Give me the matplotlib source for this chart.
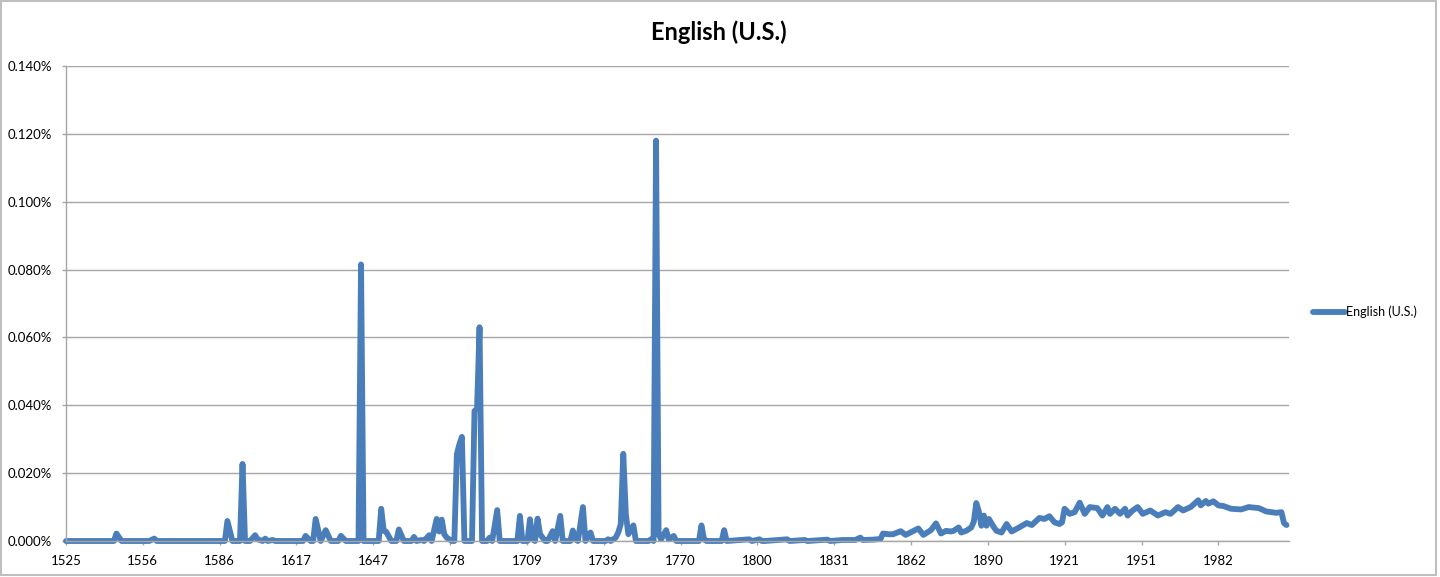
import numpy as np
import matplotlib
matplotlib.use("Agg")
from matplotlib import pyplot as plt
from matplotlib.patches import Rectangle
from matplotlib.ticker import FuncFormatter

plt.rcParams['font.family'] = ['Lato', 'DejaVu Sans']

# 1525-1800: mostly zero with isolated spikes (values in %)
years_early = [1525, 1544, 1545, 1547, 1558, 1560, 1561, 1588, 1589, 1591, 1594, 1595, 1596,
               1598, 1600, 1601, 1603, 1604, 1605, 1607, 1608, 1619, 1620, 1622, 1623, 1624,
               1626, 1628, 1630, 1633, 1634, 1636, 1641, 1642, 1643, 1649, 1650, 1651, 1652,
               1654, 1656, 1657, 1659, 1662, 1663, 1664, 1666, 1667, 1669, 1670, 1672, 1673,
               1674, 1675, 1676, 1677, 1678, 1679, 1680, 1681, 1682, 1683, 1686, 1687, 1688,
               1689, 1690, 1692, 1693, 1694, 1696, 1697, 1704, 1705, 1706, 1708, 1709, 1710,
               1711, 1712, 1713, 1714, 1715, 1716, 1718, 1719, 1721, 1722, 1725, 1726, 1727,
               1728, 1730, 1731, 1732, 1733, 1734, 1739, 1740, 1741, 1743, 1744, 1745, 1746,
               1747, 1748, 1750, 1751, 1756, 1757, 1758, 1759, 1760, 1761, 1763, 1764, 1766,
               1767, 1776, 1777, 1778, 1779, 1785, 1786, 1787, 1796, 1797, 1800, 1801]
share_early = [0, 0, 0.0022, 0, 0, 0.0007, 0, 0, 0.0059, 0, 0, 0.0227, 0,
               0, 0.0017, 0.0005, 0, 0.0007, 0, 0.0003, 0, 0, 0.0015, 0, 0, 0.0065,
               0, 0.0032, 0, 0, 0.0015, 0, 0, 0.0815, 0, 0, 0.0095, 0.003, 0.0027,
               0, 0, 0.0034, 0, 0, 0.0012, 0, 0.0003, 0, 0.0017, 0, 0.0065, 0.0028,
               0.0063, 0.002, 0.001, 0.0005, 0, 0, 0.0256, 0.0285, 0.0307, 0, 0, 0.0383, 0.039,
               0.063, 0, 0, 0.001, 0, 0.0091, 0, 0, 0.0074, 0, 0, 0.0064, 0.0005,
               0, 0.0066, 0.002, 0.001, 0, 0, 0.0029, 0, 0.0074, 0, 0, 0.0031, 0.0005,
               0, 0.010, 0, 0.0015, 0.0025, 0, 0, 0.0005, 0, 0.001, 0.0025, 0.005, 0.0257,
               0.008, 0.002, 0.0046, 0, 0, 0.0005, 0, 0.118, 0.002, 0.0005, 0.0032, 0.0005, 0.0015,
               0, 0, 0.0046, 0.0005, 0, 0, 0.0032, 0, 0.0005, 0, 0.0005, 0]

# 1802-2009: low, slowly rising usage
years_late = [1802, 1811, 1812, 1818, 1819, 1827, 1828, 1833, 1838, 1840, 1841, 1845, 1848,
              1849, 1851, 1853, 1856, 1858, 1863, 1865, 1868, 1870, 1872, 1874, 1876, 1877,
              1879, 1880, 1882, 1884, 1885, 1886, 1887, 1888, 1889, 1890, 1891, 1893, 1894,
              1896, 1898, 1900, 1903, 1906, 1908, 1911, 1913, 1915, 1917, 1919, 1920, 1921,
              1923, 1925, 1927, 1929, 1931, 1934, 1936, 1938, 1939, 1941, 1943, 1945, 1946,
              1948, 1950, 1952, 1955, 1958, 1961, 1963, 1966, 1968, 1971, 1974, 1975, 1977,
              1978, 1980, 1982, 1984, 1987, 1991, 1994, 1998, 2001, 2005, 2007, 2008, 2009]
share_late = [0, 0.0005, 0, 0.0003, 0, 0.0004, 0, 0.0003, 0.0003, 0.001, 0.0003, 0.0004, 0.0006,
              0.0022, 0.002, 0.002, 0.0029, 0.0018, 0.0037, 0.0018, 0.0032, 0.0052, 0.0022, 0.003, 0.0028, 0.003,
              0.004, 0.0025, 0.003, 0.004, 0.0057, 0.0112, 0.0087, 0.0045, 0.0075, 0.0045, 0.0065, 0.004, 0.003,
              0.0025, 0.005, 0.0028, 0.004, 0.0053, 0.0047, 0.0068, 0.0065, 0.0073, 0.0055, 0.005, 0.0055, 0.0095,
              0.008, 0.0085, 0.0113, 0.008, 0.010, 0.0097, 0.0075, 0.010, 0.008, 0.0095, 0.008, 0.0095, 0.0075,
              0.009, 0.010, 0.008, 0.009, 0.0075, 0.0085, 0.008, 0.010, 0.009, 0.010, 0.012, 0.0105, 0.0118,
              0.011, 0.0117, 0.0105, 0.0103, 0.0095, 0.0093, 0.010, 0.0097, 0.0087, 0.0083, 0.0085, 0.0053, 0.0047]

tick_labels = ['1525', '1556', '1586', '1617', '1647', '1678', '1709', '1739', '1770',
               '1800', '1831', '1862', '1890', '1921', '1951', '1982']

years = years_early + years_late
share = share_early + share_late

blue = '#4A7EBB'
grey = '#A6A6A6'

fig = plt.figure(figsize=(14.4, 5.77), dpi=100)
ax = fig.add_axes([66 / 1440, 36 / 577, (1289 - 66) / 1440, (541 - 66) / 577])

ax.plot(years, share, color=blue, lw=4.2, solid_joinstyle='round',
        solid_capstyle='round', clip_on=False, label='English (U.S.)')

ax.set_xlim(1525, 2010)
ax.set_ylim(0, 0.14)
ax.set_yticks(np.arange(0, 0.141, 0.02))
ax.yaxis.set_major_formatter(FuncFormatter(lambda v, p: '%.3f%%' % v))
ax.set_xticks(np.linspace(1525, 1982, len(tick_labels)))
ax.set_xticklabels(tick_labels)

ax.grid(axis='y', color=grey, lw=1)
ax.set_axisbelow(True)
for s in ['top', 'right']:
    ax.spines[s].set_visible(False)
for s in ['left', 'bottom']:
    ax.spines[s].set_color(grey)
    ax.spines[s].set_linewidth(1)
ax.tick_params(axis='both', colors=grey, labelcolor='black', labelsize=9.5,
               length=3, width=1, pad=7)

fig.text(0.4995, 1 - 32 / 577, 'English (U.S.)', ha='center', va='center',
         fontsize=17, fontweight='bold')

ax.legend(loc='center left', bbox_to_anchor=(1.0196, 0.482), frameon=False,
          fontsize=9, handlelength=2.6, handletextpad=0.05, borderpad=0,
          borderaxespad=0)

fig.add_artist(Rectangle((0.0008, 0.003), 0.9967, 0.995, transform=fig.transFigure,
                         fill=False, edgecolor='#BFBFBF', lw=1.5))

fig.savefig('out.png', dpi=100)
